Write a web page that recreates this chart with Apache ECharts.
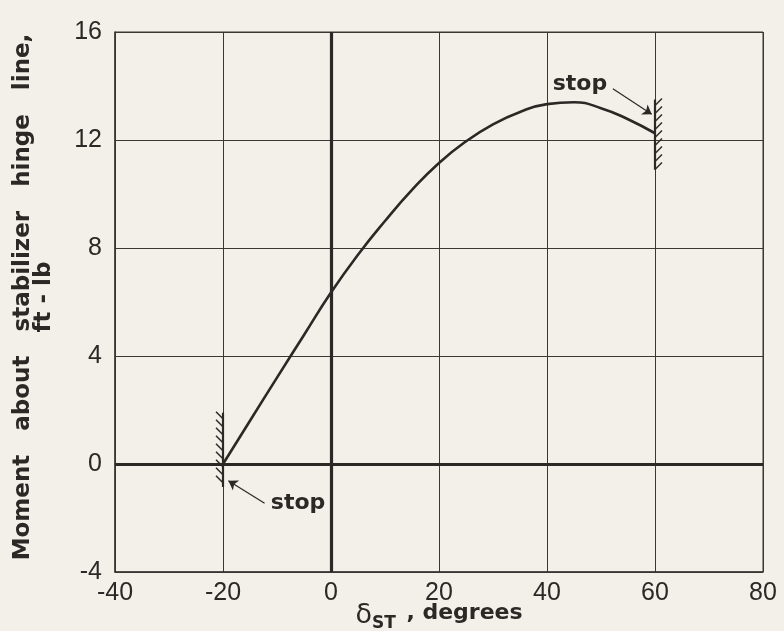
<!DOCTYPE html>
<html>
<head>
<meta charset="utf-8">
<script src="https://cdn.jsdelivr.net/npm/echarts@6/dist/echarts.min.js"></script>
<style>
  html, body { margin: 0; padding: 0; background: #f3efe9; }
  #chart { width: 784px; height: 631px; }
</style>
</head>
<body>
<div id="chart"></div>
<script>
// Stabilizer deflection (degrees) and hinge moment (ft-lb)
const deflection = [-20, -15, -10, -5, 0, 5, 10, 15, 20, 25, 30, 35, 40, 45, 50, 55, 60];
const hingeMoment = [0, 1.6, 3.2, 4.78, 6.35, 7.75, 9.0, 10.15, 11.15, 11.95, 12.58, 13.04, 13.33, 13.4, 13.18, 12.77, 12.25];

// Mechanical stops: [deflection, lower moment, upper moment, hatch side]
const stops = [
  [-20, -0.85, 1.9, -1],
  [60, 10.9, 13.5, 1]
];

// "stop" callouts: label position and arrow from -> to
const stopLabels = [[46.1, 14.07], [-6.1, -1.44]];
const stopArrows = [
  [[52.2, 13.9], [59.4, 12.95]],
  [[-12.3, -1.45], [-19.0, -0.62]]
];

const xTicks = { min: -40, max: 80, interval: 20 };
const yTicks = { min: -4, max: 16, interval: 4 };

const ink = '#2b2826';
const chart = echarts.init(document.getElementById('chart'));

chart.setOption({
  backgroundColor: '#f3efe9',
  animation: false,
  grid: {
    left: 115, right: 21, top: 32, bottom: 59,
    containLabel: false, outerBoundsMode: 'none',
    show: true, borderColor: '#3a3633', borderWidth: 1
  },
  xAxis: {
    type: 'value', min: xTicks.min, max: xTicks.max, interval: xTicks.interval,
    axisLine: { show: true, onZero: false, lineStyle: { color: '#3a3633', width: 1.5 } },
    axisTick: { show: false },
    splitLine: { show: true, lineStyle: { color: '#3a3633', width: 1 } },
    axisLabel: { color: ink, fontFamily: 'Liberation Sans', fontSize: 25, margin: 9 },
    name: '{d|δ}{s|ST}{n| , degrees}',
    nameLocation: 'middle', nameGap: 27, nameMoveOverlap: false,
    nameTextStyle: {
      color: ink,
      rich: {
        d: { fontFamily: 'DejaVu Sans', fontSize: 27, color: ink },
        s: { fontFamily: 'DejaVu Sans', fontWeight: 'bold', fontSize: 17, color: ink, padding: [16, 3, 0, 0] },
        n: { fontFamily: 'DejaVu Sans', fontWeight: 'bold', fontSize: 22, color: ink, padding: [0, 0, 4, 0] }
      }
    }
  },
  yAxis: {
    type: 'value', min: yTicks.min, max: yTicks.max, interval: yTicks.interval,
    axisLine: { show: true, onZero: false, lineStyle: { color: '#3a3633', width: 1.5 } },
    axisTick: { show: false },
    splitLine: { show: true, lineStyle: { color: '#3a3633', width: 1 } },
    axisLabel: { color: ink, fontFamily: 'Liberation Sans', fontSize: 25, margin: 13 },
    name: 'Moment   about   stabilizer   hinge   line,\nft - lb',
    nameLocation: 'middle', nameRotate: 90, nameGap: 60, nameMoveOverlap: false,
    nameTextStyle: { color: ink, fontFamily: 'DejaVu Sans', fontWeight: 'bold', fontSize: 23, lineHeight: 21, padding: [0, 0, 0, 10] }
  },
  series: [
    {
      type: 'line',
      data: deflection.map((d, i) => [d, hingeMoment[i]]),
      smooth: 0.5,
      showSymbol: false,
      lineStyle: { color: ink, width: 2.6 },
      z: 5,
      markLine: {
        silent: true, symbol: 'none', label: { show: false },
        lineStyle: { color: ink, width: 3.2, type: 'solid' },
        data: [{ xAxis: 0 }, { yAxis: 0 }]
      }
    },
    {
      type: 'custom',
      data: stops,
      z: 6,
      renderItem: function (params, api) {
        const x = api.value(0), lo = api.value(1), hi = api.value(2), side = api.value(3);
        const top = api.coord([x, hi]);
        const bot = api.coord([x, lo]);
        const children = [{
          type: 'line',
          shape: { x1: top[0], y1: top[1], x2: bot[0], y2: bot[1] },
          style: { stroke: ink, lineWidth: 2.2 }
        }];
        for (let y = top[1] + 6; y <= bot[1] + 0.5; y += 8) {
          children.push({
            type: 'line',
            shape: { x1: top[0], y1: y, x2: top[0] + side * 7, y2: y - 7 },
            style: { stroke: ink, lineWidth: 1.5 }
          });
        }
        return { type: 'group', children: children };
      }
    },
    {
      type: 'lines',
      coordinateSystem: 'cartesian2d',
      data: stopArrows.map(a => ({ coords: a })),
      symbol: ['none', 'arrow'],
      symbolSize: 9,
      lineStyle: { color: ink, width: 1.2, opacity: 1 },
      z: 7
    },
    {
      type: 'custom',
      data: stopLabels,
      z: 8,
      renderItem: function (params, api) {
        const p = api.coord([api.value(0), api.value(1)]);
        return {
          type: 'text',
          x: p[0], y: p[1],
          style: {
            text: 'stop', fill: ink,
            font: 'bold 22px "DejaVu Sans"',
            align: 'center', verticalAlign: 'middle'
          }
        };
      }
    }
  ]
});
</script>
</body>
</html>
